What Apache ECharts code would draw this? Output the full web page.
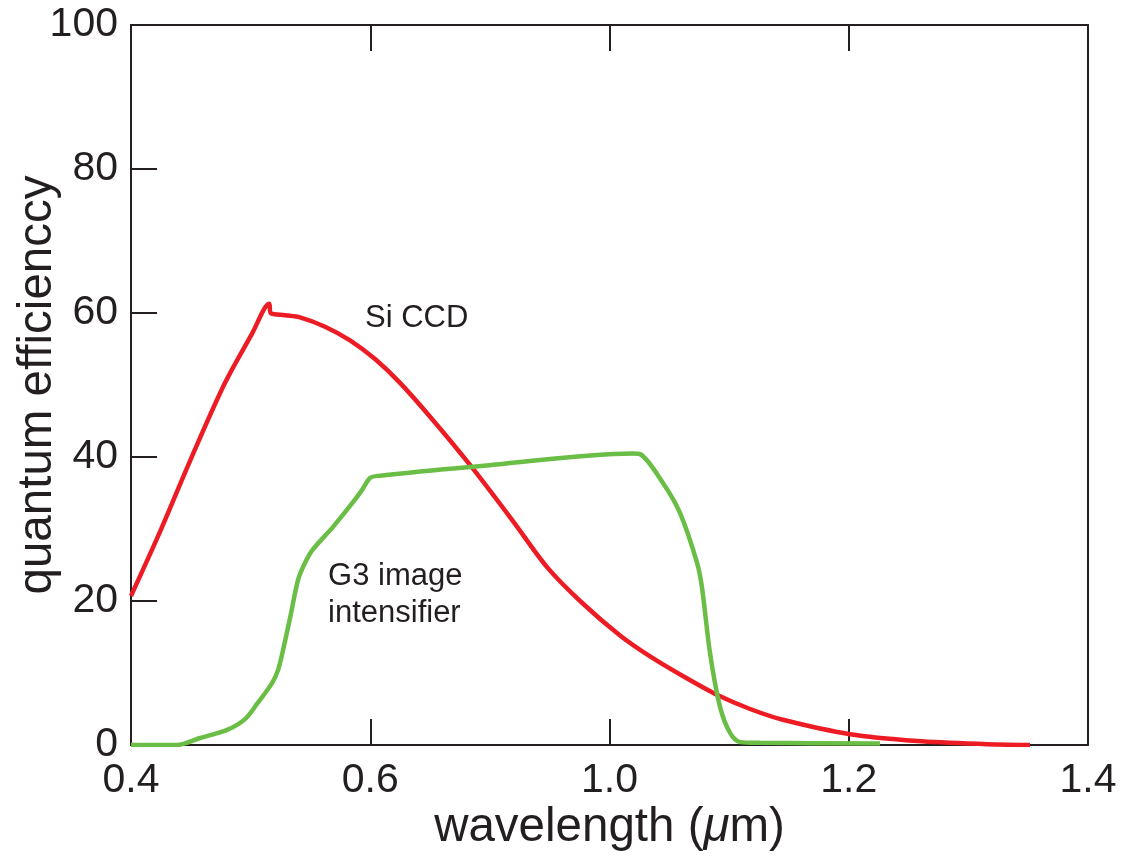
<!DOCTYPE html>
<html>
<head>
<meta charset="utf-8">
<script src="https://cdn.jsdelivr.net/npm/echarts@6/dist/echarts.min.js"></script>
<style>
html,body{margin:0;padding:0;background:#fff;}
#chart{width:1126px;height:856px;}
</style>
</head>
<body>
<div id="chart"></div>
<script>
// x tick labels as printed in the reference (positions 0.4,0.6,0.8,1.0,1.2 on the scale)
const xTickLabels = ['0.4', '0.6', '1.0', '1.2', '1.4'];
const yTicks = [0, 20, 40, 60, 80, 100];

// Si CCD quantum efficiency [wavelength, QE]
const siCCD = [
  [0.4000, 20.7], [0.4226, 29.0], [0.4510, 40.1], [0.4786, 50.3], [0.5011, 57.1],
  [0.5155, 61.3], [0.5168, 60.0], [0.5287, 59.7], [0.5413, 59.4], [0.5622, 58.1],
  [0.5831, 56.2], [0.6040, 53.6], [0.6249, 50.3], [0.6500, 45.6], [0.6834, 38.9],
  [0.7193, 31.1], [0.7478, 24.7], [0.7754, 20.0], [0.8088, 15.2], [0.8339, 12.3],
  [0.8631, 9.4], [0.8907, 6.9], [0.9175, 5.0], [0.9450, 3.5], [1.0011, 1.5],
  [1.0571, 0.56], [1.1123, 0.14], [1.1515, 0.0]
];

// G3 image intensifier quantum efficiency [wavelength, QE]
const g3 = [
  [0.4000, 0.0], [0.4385, 0.0], [0.4577, 0.97], [0.4803, 2.1], [0.4953, 3.6],
  [0.5053, 5.7], [0.5179, 8.6], [0.5229, 10.4], [0.5271, 13.2], [0.5329, 17.6],
  [0.5396, 22.9], [0.5446, 25.0], [0.5513, 27.0], [0.5689, 30.3], [0.5831, 33.2],
  [0.5931, 35.4], [0.5998, 37.1], [0.6081, 37.4], [0.6834, 38.6], [0.8197, 40.5],
  [0.8255, 40.4], [0.8447, 36.4], [0.8590, 32.2], [0.8732, 25.3], [0.8773, 21.9],
  [0.8840, 12.8], [0.8924, 5.3], [0.9007, 1.7], [0.9091, 0.4], [0.9258, 0.3],
  [1.0261, 0.2]
];

// annotations: [text, x, y] in data units (left edge, vertical middle)
const annotations = [
  ['Si CCD', 0.5956, 59.2],
  ['G3 image', 0.5647, 23.4],
  ['intensifier', 0.5647, 18.3]
];

const ink = '#231f20';
const font = '"Liberation Sans", Arial, Helvetica, sans-serif';

const chart = echarts.init(document.getElementById('chart'), null, {renderer: 'canvas'});

const axisLine = {show: true, onZero: false, lineStyle: {color: ink, width: 2}};
const tick = {show: true, inside: true, length: 26, lineStyle: {color: ink, width: 2}};

chart.setOption({
  animation: false,
  backgroundColor: '#fff',
  grid: {left: 131, top: 25, width: 957, height: 720, containLabel: false, outerBoundsMode: 'none'},
  xAxis: [{
    type: 'value', position: 'bottom', min: 0.4, max: 1.2, interval: 0.2,
    axisLine: axisLine, axisTick: tick, splitLine: {show: false},
    axisLabel: {
      margin: 15, fontSize: 41, color: ink, fontFamily: font,
      formatter: v => xTickLabels[Math.round((v - 0.4) / 0.2)]
    },
    name: '{a|wavelength (}{b|μ}{a|m)}',
    nameLocation: 'middle', nameGap: 59, nameMoveOverlap: false,
    nameTextStyle: {
      rich: {
        a: {fontSize: 47.5, color: ink, fontFamily: font},
        b: {fontSize: 47.5, color: ink, fontFamily: font, fontStyle: 'italic'}
      }
    }
  }, {
    type: 'value', position: 'top', min: 0.4, max: 1.2, interval: 0.2,
    axisLine: axisLine, axisTick: tick, splitLine: {show: false},
    axisLabel: {show: false}
  }],
  yAxis: [{
    type: 'value', position: 'left', min: yTicks[0], max: yTicks[yTicks.length - 1], interval: 20,
    axisLine: axisLine, axisTick: tick, splitLine: {show: false},
    axisLabel: {margin: 13, fontSize: 41, color: ink, fontFamily: font},
    name: 'quantum efficienccy', nameLocation: 'middle', nameGap: 69, nameMoveOverlap: false,
    nameTextStyle: {fontSize: 47.5, color: ink, fontFamily: font}
  }, {
    type: 'value', position: 'right', min: 0, max: 100, interval: 20,
    axisLine: axisLine, axisTick: {show: false}, splitLine: {show: false},
    axisLabel: {show: false}
  }],
  series: [{
    name: 'Si CCD', type: 'line', data: siCCD, showSymbol: false, smooth: 0.3,
    lineStyle: {color: '#ed1c24', width: 4.5}, z: 3
  }, {
    name: 'G3 image intensifier', type: 'line', data: g3, showSymbol: false, smooth: 0.3,
    lineStyle: {color: '#6abd45', width: 4.5}, z: 3
  }]
});

const graphics = annotations.map(a => {
  const p = chart.convertToPixel({gridIndex: 0}, [a[1], a[2]]);
  return {
    type: 'text', x: p[0], y: p[1], z: 10,
    style: {text: a[0], fontSize: 31, fill: ink, fontFamily: font, textAlign: 'left', textVerticalAlign: 'middle'}
  };
});
chart.setOption({graphic: graphics});
</script>
</body>
</html>
